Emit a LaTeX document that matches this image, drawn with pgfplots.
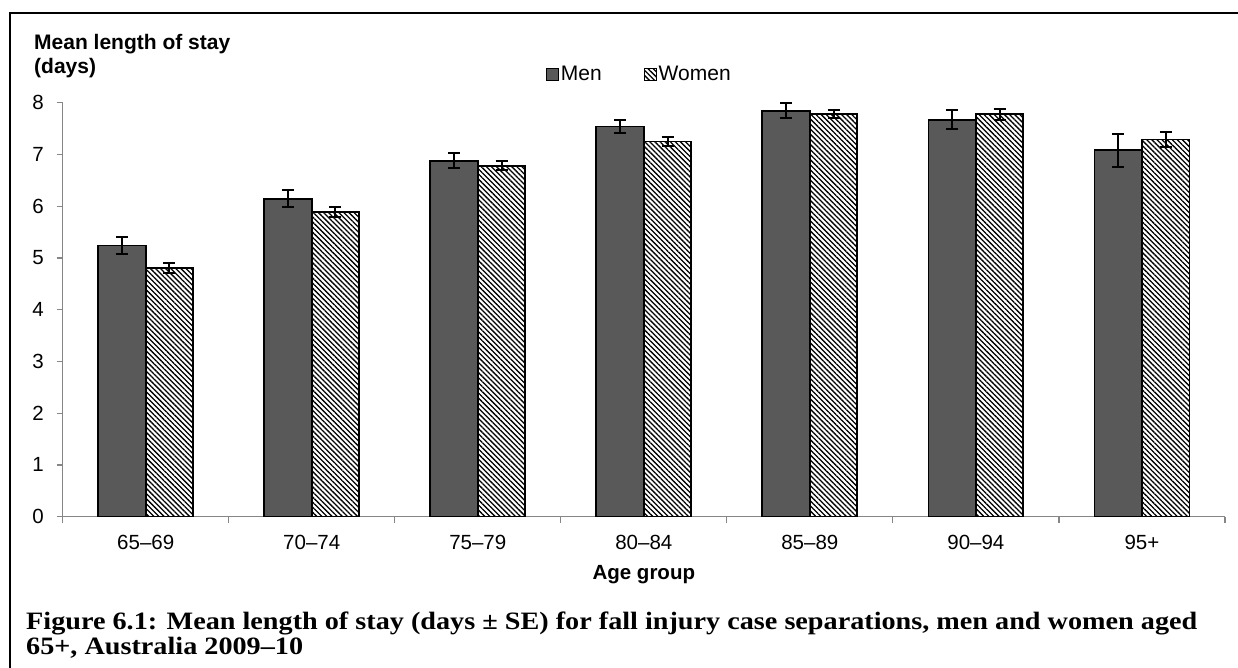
\documentclass[border=0pt]{standalone}
\usepackage{fontspec}
\setmainfont{Liberation Sans}
\newfontfamily\capfont[Ligatures=TeX]{Liberation Serif}
\usepackage{pgfplots}
\usepackage{pgfplotstable}
\pgfplotsset{compat=1.18}
\usetikzlibrary{patterns.meta}
\definecolor{menfill}{RGB}{89,89,89}
\definecolor{axisgray}{RGB}{134,134,134}

% mean length of stay and standard error, by age group
\pgfplotstableread{
x men  menerr women womenerr
0 5.24 0.16   4.80  0.10
1 6.14 0.165  5.89  0.10
2 6.88 0.15   6.78  0.09
3 7.54 0.13   7.25  0.08
4 7.84 0.145  7.78  0.085
5 7.67 0.18   7.78  0.105
6 7.08 0.32   7.29  0.15
}\staytable

\begin{document}
\begin{tikzpicture}
\useasboundingbox (0pt,0pt) rectangle (1238pt,668pt);
\draw[line width=2.5pt] (10pt,0pt) -- (10pt,655pt) -- (1240pt,655pt);

\node[anchor=base west, inner sep=0pt, font=\bfseries\fontsize{21}{24}\selectfont] at (34pt,618pt) {Mean length of stay};
\node[anchor=base west, inner sep=0pt, font=\bfseries\fontsize{21}{24}\selectfont] at (34pt,594pt) {(days)};

\begin{axis}[
  at={(62.7pt,151.3pt)}, anchor=south west,
  scale only axis, width=1162.3pt, height=414pt,
  xmin=-0.5, xmax=6.5, ymin=0, ymax=8,
  axis lines*=left,
  axis line style={draw=axisgray, line width=1.2pt},
  tick align=outside,
  major tick length=6pt, minor tick length=6pt,
  tick style={draw=axisgray, line width=1.2pt},
  xtick={0,...,6},
  xticklabels={65--69,70--74,75--79,80--84,85--89,90--94,95+},
  major x tick style={draw=none},
  minor xtick={-0.5,0.5,1.5,2.5,3.5,4.5,5.5,6.5},
  ytick={0,...,8},
  /pgf/number format/assume math mode=true,
  every tick label/.append style={font=\fontsize{20.5}{24}\selectfont},
  xticklabel style={anchor=base, yshift=-27pt},
  yticklabel style={anchor=east, inner sep=0pt, xshift=-12.7pt},
  xlabel={Age group},
  xlabel style={at={(axis description cs:0.5,0)}, anchor=base, yshift=-63pt,
    font=\bfseries\fontsize{20.5}{24}\selectfont},
  legend columns=2,
  legend style={at={(axis description cs:0.413,1.069)}, anchor=west,
    draw=none, fill=none, font=\fontsize{21}{24}\selectfont,
    nodes={inner sep=2pt},
    /tikz/column 2/.style={column sep=40pt}},
  legend image code/.code={\draw[#1, line width=1pt] (0pt,-6pt) rectangle (12pt,6pt);},
  error bars/error bar style={black, line width=2pt},
  error bars/error mark options={black, line width=2pt, mark size=6pt, rotate=90},
]
\addplot[ybar, bar width=0.286, bar shift=0, fill=menfill, draw=black, line width=1.8pt,
  error bars/.cd, y dir=both, y explicit]
  table[x expr=\thisrow{x}-0.143, y=men, y error=menerr] {\staytable};
\addlegendentry{Men}
\addplot[ybar, bar width=0.286, bar shift=0, draw=black, line width=1.8pt,
  pattern={Lines[angle=-45, distance=3.6pt, line width=1.3pt]}, pattern color=black,
  error bars/.cd, y dir=both, y explicit]
  table[x expr=\thisrow{x}+0.143, y=women, y error=womenerr] {\staytable};
\addlegendentry{Women}
\end{axis}

\node[anchor=base west, inner sep=0pt, font=\capfont\bfseries\fontsize{25}{26}\selectfont] at (26pt,38pt)
  {\scalebox{1.128}[1]{Figure 6.1: Mean length of stay (days ± SE) for fall injury case separations, men and women aged}};
\node[anchor=base west, inner sep=0pt, font=\capfont\bfseries\fontsize{25}{26}\selectfont] at (26pt,13pt)
  {\scalebox{1.128}[1]{65+, Australia 2009–10}};
\end{tikzpicture}
\end{document}
